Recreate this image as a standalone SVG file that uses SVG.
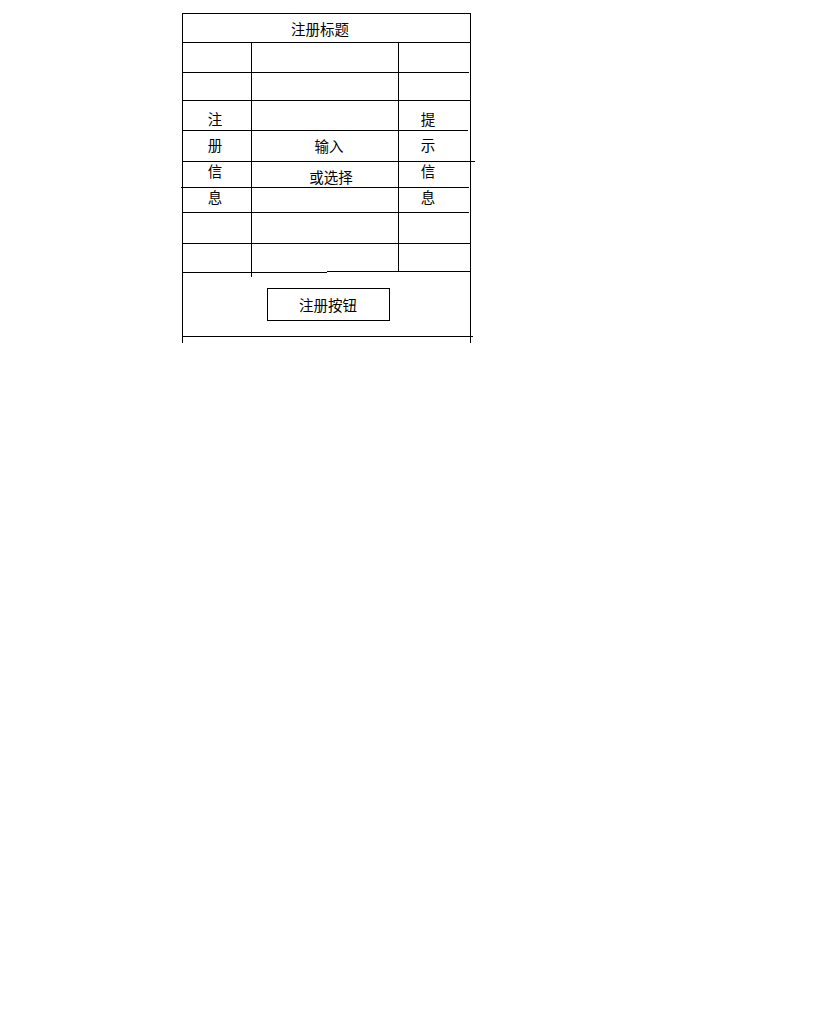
<svg xmlns="http://www.w3.org/2000/svg" width="819" height="1024" viewBox="0 0 819 1024">
<style>
.ln{stroke:#000;stroke-width:1;fill:none}
.t{font-family:"Noto Sans CJK SC","Noto Sans",sans-serif;font-size:14.5px;fill:#000;text-anchor:middle}
</style>
<rect width="819" height="1024" fill="#fff"/>
<g id="connectors">
<line class="ln" x1="182.5" y1="13.5" x2="470.5" y2="13.5"/>
<line class="ln" x1="182.5" y1="42.5" x2="470.5" y2="42.5"/>
<line class="ln" x1="182.5" y1="72.5" x2="469" y2="72.5"/>
<line class="ln" x1="182.5" y1="100.5" x2="470.5" y2="100.5"/>
<line class="ln" x1="182.5" y1="130.5" x2="468" y2="130.5"/>
<line class="ln" x1="182.5" y1="161.5" x2="475" y2="161.5"/>
<line class="ln" x1="181" y1="187.5" x2="469" y2="187.5"/>
<line class="ln" x1="182.5" y1="212.5" x2="469" y2="212.5"/>
<line class="ln" x1="182.5" y1="243.5" x2="470.5" y2="243.5"/>
<line class="ln" x1="182.5" y1="272.5" x2="327" y2="272.5"/>
<line class="ln" x1="327" y1="271.5" x2="470.5" y2="271.5"/>
<line class="ln" x1="182.5" y1="336.5" x2="473" y2="336.5"/>
<line class="ln" x1="182.5" y1="13" x2="182.5" y2="343"/>
<line class="ln" x1="470.5" y1="13" x2="470.5" y2="343"/>
<line class="ln" x1="251.5" y1="42" x2="251.5" y2="277"/>
<line class="ln" x1="398.5" y1="42" x2="398.5" y2="272"/>
</g>
<g id="title"><text class="t" x="320" y="34.5">注册标题</text></g>
<g id="left-label">
<text class="t" x="215" y="125">注</text>
<text class="t" x="215" y="151">册</text>
<text class="t" x="215" y="176.5">信</text>
<text class="t" x="215" y="202.5">息</text>
</g>
<g id="input">
<text class="t" x="329" y="152">输入</text>
<text class="t" x="331" y="183">或选择</text>
</g>
<g id="right-label">
<text class="t" x="428" y="125">提</text>
<text class="t" x="428" y="151">示</text>
<text class="t" x="428" y="176.5">信</text>
<text class="t" x="428" y="202.5">息</text>
</g>
<g id="button">
<rect class="ln" x="267.5" y="288.5" width="122" height="32"/>
<text class="t" x="328" y="310.5">注册按钮</text>
</g>
</svg>
